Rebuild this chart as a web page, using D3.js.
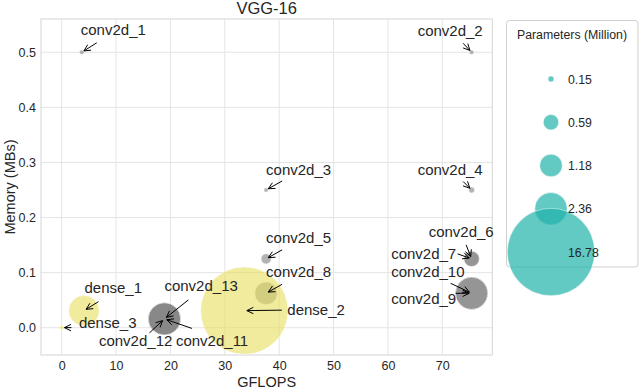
<!DOCTYPE html>
<html>
<head>
<meta charset="utf-8">
<script src="https://cdn.jsdelivr.net/npm/d3@7"></script>
<style>
  body { margin: 0; background: #fff; }
  text { font-family: "Liberation Sans", Arial, sans-serif; fill: #262626; }
</style>
</head>
<body>
<script>
// layer data
var layers = ["conv2d_1", "conv2d_2", "conv2d_3", "conv2d_4", "conv2d_5", "conv2d_6", "conv2d_7",
  "conv2d_8", "conv2d_9", "conv2d_10", "conv2d_11", "conv2d_12", "conv2d_13",
  "dense_1", "dense_2", "dense_3"];
var layerType = ["conv", "conv", "conv", "conv", "conv", "conv", "conv",
  "conv", "conv", "conv", "conv", "conv", "conv", "dense", "dense", "dense"];
var gflops = [3.7, 75.4, 37.6, 75.4, 37.6, 75.4, 75.4, 37.6, 75.4, 75.4, 18.9, 18.9, 18.9, 4.1, 33.6, 0.05];
var memory = [0.5, 0.5, 0.25, 0.25, 0.125, 0.125, 0.125, 0.0625, 0.0625, 0.0625, 0.016, 0.016, 0.016, 0.031, 0.031, 0.0002];
var params = [0.0017, 0.037, 0.074, 0.147, 0.295, 0.59, 0.59, 1.18, 2.36, 2.36, 2.36, 2.36, 2.36, 2.1, 16.78, 0.041];

var xTicks = [0, 10, 20, 30, 40, 50, 60, 70];
var yTicks = [0, 0.1, 0.2, 0.3, 0.4, 0.5];
var legendValues = [0.15, 0.59, 1.18, 2.36, 16.78];

// label placement: [text dx, text dy, arrow tail dx, arrow tail dy] relative to the point
var labelLayout = {
  conv2d_1: [-1, -17, 15, -9.5],
  conv2d_2: [-54, -16, -8.5, -9],
  conv2d_3: [0, -15.5, 16, -9],
  conv2d_4: [-54, -15.5, -8.5, -8.5],
  conv2d_5: [0, -16, 16, -9],
  conv2d_6: [-43, -22, -5.5, -14],
  conv2d_7: [-80.5, 0.5, -14, -5],
  conv2d_8: [0, -16.5, 16, -9],
  conv2d_9: [-80.5, 11, -16, 0],
  conv2d_10: [-80.5, -16.5, -21, -10],
  conv2d_11: [11.5, 27, 27.5, 9.5],
  conv2d_12: [-65.5, 27, -15, 14],
  conv2d_13: [0, -28, 24, -19],
  dense_1: [0.5, -17.5, 14.5, -9],
  dense_2: [43, 4.5, 37.5, -0.5],
  dense_3: [17, 0.5, 9.5, 0]
};

var colors = { conv: "#808080", dense: "#e8dd5c" };

var width = 640, height = 390;
var svg = d3.select("body").append("svg")
  .attr("width", width)
  .attr("height", height);

var x = d3.scaleLinear().domain([-3.8, 79.2]).range([41, 492.3]);
var y = d3.scaleLinear().domain([-0.0495, 0.5604]).range([355, 19]);

// area grows linearly with the parameter count
var area = d3.scaleLinear().domain([0.15, 16.78]).range([9, 1910]);
function radius(v) {
  return Math.sqrt(Math.max(area(v), 5));
}

// grid
svg.append("g").selectAll("line.gx")
  .data(xTicks).enter().append("line")
  .attr("x1", function(d) { return x(d); })
  .attr("x2", function(d) { return x(d); })
  .attr("y1", y.range()[0]).attr("y2", y.range()[1])
  .attr("stroke", "#e4e4e4").attr("stroke-width", 1);
svg.append("g").selectAll("line.gy")
  .data(yTicks).enter().append("line")
  .attr("x1", x.range()[0]).attr("x2", x.range()[1])
  .attr("y1", function(d) { return y(d); })
  .attr("y2", function(d) { return y(d); })
  .attr("stroke", "#e4e4e4").attr("stroke-width", 1);

// frame
svg.append("rect")
  .attr("x", x.range()[0]).attr("y", y.range()[1])
  .attr("width", x.range()[1] - x.range()[0])
  .attr("height", y.range()[0] - y.range()[1])
  .attr("fill", "none").attr("stroke", "#d4d4d4").attr("stroke-width", 1);

// axes, no tick marks
var xAxis = svg.append("g")
  .attr("transform", "translate(0," + y.range()[0] + ")")
  .call(d3.axisBottom(x).tickValues(xTicks).tickSize(0).tickPadding(6).tickFormat(d3.format("d")));
var yAxis = svg.append("g")
  .attr("transform", "translate(" + x.range()[0] + ",0)")
  .call(d3.axisLeft(y).tickValues(yTicks).tickSize(0).tickPadding(5).tickFormat(d3.format(".1f")));
[xAxis, yAxis].forEach(function(a) {
  a.select(".domain").remove();
  a.selectAll("text")
    .style("font-family", "Liberation Sans, Arial, sans-serif")
    .style("font-size", "12.5px")
    .attr("fill", "#262626");
});

// bubbles
var idx = d3.range(layers.length);
svg.append("g").selectAll("circle")
  .data(idx).enter().append("circle")
  .attr("cx", function(i) { return x(gflops[i]); })
  .attr("cy", function(i) { return y(memory[i]); })
  .attr("r", function(i) { return radius(params[i]); })
  .attr("fill", function(i) { return colors[layerType[i]]; })
  .attr("fill-opacity", 0.6)
  .attr("stroke", "#fff")
  .attr("stroke-opacity", 0.6)
  .attr("stroke-width", 0.8);

// annotations
var ann = svg.append("g");
idx.forEach(function(i) {
  var name = layers[i];
  var lay = labelLayout[name];
  var px = x(gflops[i]), py = y(memory[i]);
  var tx = px + lay[2], ty = py + lay[3];
  var ang = Math.atan2(py - ty, px - tx);
  var shrink = 2.5;
  var ex = px - shrink * Math.cos(ang), ey = py - shrink * Math.sin(ang);
  var hl = 6.5, hw = 3.2;
  var bx = ex - hl * Math.cos(ang), by = ey - hl * Math.sin(ang);
  var nx = -Math.sin(ang), ny = Math.cos(ang);
  ann.append("path")
    .attr("d", "M" + tx + "," + ty + "L" + ex + "," + ey +
      "M" + (bx + nx * hw) + "," + (by + ny * hw) + "L" + ex + "," + ey +
      "L" + (bx - nx * hw) + "," + (by - ny * hw))
    .attr("fill", "none")
    .attr("stroke", "#000")
    .attr("stroke-width", 1);
  ann.append("text")
    .attr("x", px + lay[0])
    .attr("y", py + lay[1])
    .style("font-size", "15px")
    .text(name);
});

// title and axis labels
svg.append("text")
  .attr("x", (x.range()[0] + x.range()[1]) / 2)
  .attr("y", 14)
  .attr("text-anchor", "middle")
  .style("font-size", "16.5px")
  .text("VGG-16");
svg.append("text")
  .attr("x", (x.range()[0] + x.range()[1]) / 2)
  .attr("y", 387)
  .attr("text-anchor", "middle")
  .style("font-size", "14.5px")
  .text("GFLOPS");
svg.append("text")
  .attr("transform", "translate(15," + ((y.range()[0] + y.range()[1]) / 2) + ") rotate(-90)")
  .attr("text-anchor", "middle")
  .style("font-size", "14.5px")
  .text("Memory (MBs)");

// size legend
var legend = svg.append("g");
legend.append("rect")
  .attr("x", 506.5).attr("y", 20.5)
  .attr("width", 131.5).attr("height", 246.5)
  .attr("rx", 3)
  .attr("fill", "#fff").attr("fill-opacity", 0.8)
  .attr("stroke", "#d0d0d0").attr("stroke-width", 1);
legend.append("text")
  .attr("x", 572).attr("y", 39)
  .attr("text-anchor", "middle")
  .style("font-size", "12.3px")
  .text("Parameters (Million)");
var rowY = d3.scalePoint().domain(legendValues).range([79, 252]);
legend.selectAll("circle")
  .data(legendValues).enter().append("circle")
  .attr("cx", 551)
  .attr("cy", function(d) { return rowY(d); })
  .attr("r", function(d) { return radius(d); })
  .attr("fill", "#20b2aa")
  .attr("fill-opacity", 0.7)
  .attr("stroke", "#fff")
  .attr("stroke-opacity", 0.6)
  .attr("stroke-width", 0.8);
legend.selectAll("text.lv")
  .data(legendValues).enter().append("text")
  .attr("class", "lv")
  .attr("x", 568)
  .attr("y", function(d) { return rowY(d) + 4.5; })
  .style("font-size", "12.3px")
  .text(function(d) { return d3.format(".2f")(d); });
</script>
</body>
</html>
